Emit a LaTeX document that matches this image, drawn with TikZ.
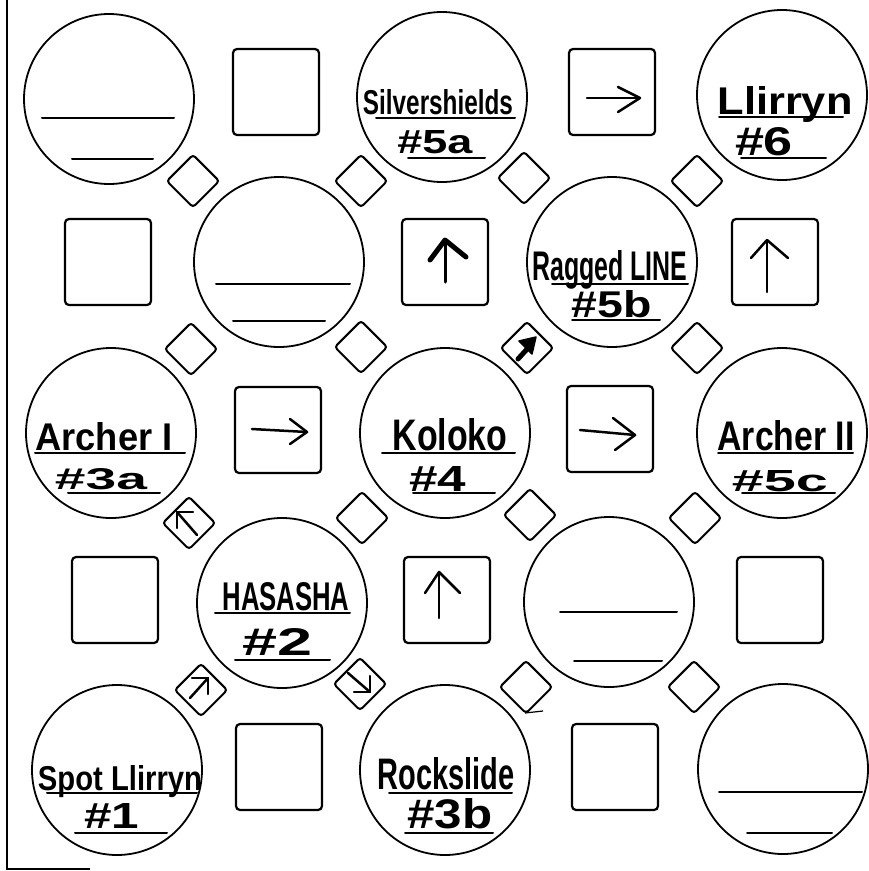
\documentclass[tikz,border=0pt]{standalone}
\usepackage{fontspec}
\setmainfont{Liberation Sans}
\usetikzlibrary{arrows.meta}
\newcommand{\hw}[3]{\resizebox{#1pt}{#2pt}{\bfseries #3}}
\begin{document}
\begin{tikzpicture}[x=1pt,y=-1pt,
 disc/.style={draw,circle,minimum size=170pt,inner sep=0pt,line width=1.8pt},
 tile/.style={draw,rectangle,rounded corners=4pt,minimum size=86pt,inner sep=0pt,line width=2.2pt},
 gem/.style={draw,rectangle,rounded corners=3pt,minimum size=37pt,inner sep=0pt,rotate=45,line width=2pt},
 pen/.style={line width=2pt,line cap=round,line join=round},
 boldpen/.style={line width=5pt,line cap=round,line join=round},
 lbl/.style={anchor=base,inner sep=0pt}]
\useasboundingbox (0,0) rectangle (869,871);
% partial frame
\draw[line width=1.5pt] (7,0) -- (7,869) -- (90,869);
% circles
\node[disc] (c00) at (109,99) {};
\node[disc] (c02) at (442,97) {};
\node[disc] (c04) at (782,95) {};
\node[disc] (c11) at (279,262) {};
\node[disc] (c13) at (612,262) {};
\node[disc] (c20) at (111,433) {};
\node[disc] (c22) at (445,433) {};
\node[disc] (c24) at (782,433) {};
\node[disc] (c31) at (282,603) {};
\node[disc] (c33) at (609,602) {};
\node[disc] (c40) at (117,770) {};
\node[disc] (c42) at (445,770) {};
\node[disc] (c44) at (783,769) {};
% squares
\node[tile] (s01) at (276,92) {};
\node[tile] (s03) at (612,92) {};
\node[tile] (s10) at (108,262) {};
\node[tile] (s12) at (445,262) {};
\node[tile] (s14) at (775,262) {};
\node[tile] (s21) at (278,430) {};
\node[tile] (s23) at (610,429) {};
\node[tile] (s30) at (115,600) {};
\node[tile] (s32) at (447,600) {};
\node[tile] (s34) at (780,600) {};
\node[tile] (s41) at (279,767) {};
\node[tile] (s43) at (615,767) {};
% diamonds
\node[gem] (d1) at (193,181) {};
\node[gem] (d2) at (361,181) {};
\node[gem] (d3) at (524,178) {};
\node[gem] (d4) at (697,181) {};
\node[gem] (d5) at (191,349) {};
\node[gem] (d6) at (361,347) {};
\node[gem] (d7) at (527,348) {};
\node[gem] (d8) at (697,348) {};
\node[gem] (d9) at (189,523) {};
\node[gem] (d10) at (362,518) {};
\node[gem] (d11) at (530,515) {};
\node[gem] (d12) at (695,518) {};
\node[gem] (d13) at (201,690) {};
\node[gem] (d14) at (360,684) {};
\node[gem] (d15) at (526,687) {};
\node[gem] (d16) at (694,687) {};
% arrows in squares
\begin{scope}[shift={(s03.center)}]
 \draw[pen,line width=2.5pt] (-25,6) -- (28,6); \draw[pen,line width=2.5pt] (6,-5) -- (28,6) -- (6,20);
\end{scope}
\begin{scope}[shift={(s21.center)}]
 \draw[pen,line width=2.5pt] (-26,-1) -- (29,2); \draw[pen,line width=2.5pt] (12,-11) -- (29,2) -- (12,14);
\end{scope}
\begin{scope}[shift={(s23.center)}]
 \draw[pen,line width=2.5pt] (-30,1) -- (25,6); \draw[pen,line width=2.5pt] (3,-11) -- (25,6) -- (5,21);
\end{scope}
\begin{scope}[shift={(s12.center)}]
 \draw[pen,line width=3pt] (0,20) -- (0,-22); \draw[boldpen] (-15,-2) -- (0,-22) -- (21,-5);
\end{scope}
\begin{scope}[shift={(s14.center)}]
 \draw[pen,line width=2.5pt] (-8,30) -- (-8,-22); \draw[pen,line width=2.5pt] (-24,-4) -- (-8,-22) -- (13,-4);
\end{scope}
\begin{scope}[shift={(s32.center)}]
 \draw[pen,line width=2.5pt] (-8,18) -- (-8,-28); \draw[pen,line width=2.5pt] (-22,-7) -- (-8,-28) -- (13,-7);
\end{scope}
% arrows in diamonds
\begin{scope}[shift={(d7.center)}]
 \draw[line width=5pt,line cap=round] (-9,11) -- (1,0);
 \fill[line join=round,draw,line width=1.5pt] (9,-11) -- (-8,-7) -- (5,6) -- cycle;
\end{scope}
\begin{scope}[shift={(d9.center)}]
 \draw[pen,line width=2.5pt] (8,12) -- (-12,-11); \draw[pen,line width=2.5pt] (-12,5) -- (-12,-11) -- (4,-11);
\end{scope}
\begin{scope}[shift={(d13.center)}]
 \draw[pen,line width=2.5pt] (-11,8) -- (7,-12); \draw[pen,line width=2.5pt] (-9,-12) -- (7,-12) -- (7,4);
\end{scope}
\begin{scope}[shift={(d14.center)}]
 \draw[pen,line width=2.5pt] (-12,-11) -- (10,8); \draw[pen,line width=2.5pt] (10,-8) -- (10,8) -- (-6,8);
\end{scope}
\draw[line width=1.2pt] ([shift={(-1,26)}]d15.center) -- ([shift={(17,24)}]d15.center);
% blank circle lines
\draw[pen] (42,118) -- (174,118); \draw[pen] (72,159) -- (153,159);
\draw[pen] (216,284) -- (350,284); \draw[pen] (233,321) -- (325,321);
\draw[pen] (560,612) -- (677,612); \draw[pen] (574,661) -- (662,661);
\draw[pen] (719,792) -- (862,792); \draw[pen] (747,833) -- (832,833);
% labels
\node[lbl] (t1) at (438,114) {\hw{150}{25}{Silvershields}};
\draw[pen] (376,118) -- (515,118);
\node[lbl] (t2) at (435,153) {\hw{75}{23}{\#5a}};
\draw[pen] (408,158) -- (485,158);
\node[lbl] (t3) at (785,114) {\hw{135}{28}{Llirryn}};
\draw[pen] (719,117) -- (843,117);
\node[lbl] (t4) at (764,155) {\hw{58}{28}{\#6}};
\draw[pen] (741,158) -- (826,158);
\node[lbl] (t5) at (610,280) {\hw{155}{30}{Ragged LINE}};
\draw[pen] (552,284) -- (688,284);
\node[lbl] (t6) at (612,317) {\hw{80}{27}{\#5b}};
\draw[pen] (572,320) -- (660,320);
\node[lbl] (t7) at (104,450) {\hw{137}{28}{Archer I}};
\draw[pen] (35,453) -- (185,453);
\node[lbl] (t8) at (101,489) {\hw{92}{21}{\#3a}};
\draw[pen] (68,493) -- (160,493);
\node[lbl] (t9) at (450,450) {\hw{115}{32}{Koloko}};
\draw[pen] (382,453) -- (515,453);
\node[lbl] (t10) at (438,491) {\hw{57}{25}{\#4}};
\draw[pen] (413,493) -- (495,493);
\node[lbl] (t11) at (786,450) {\hw{137}{30}{Archer II}};
\draw[pen] (718,453) -- (853,453);
\node[lbl] (t12) at (780,491) {\hw{96}{21}{\#5c}};
\draw[pen] (742,493) -- (835,493);
\node[lbl] (t13) at (286,610) {\hw{127}{28}{HASASHA}};
\draw[pen] (215,613) -- (350,613);
\node[lbl] (t14) at (278,655) {\hw{70}{27}{\#2}};
\draw[pen] (235,660) -- (330,660);
\node[lbl] (t15) at (120,790) {\hw{164}{25}{Spot Llirryn}};
\draw[pen] (47,793) -- (197,793);
\node[lbl] (t16) at (112,828) {\hw{55}{25}{\#1}};
\draw[pen] (75,833) -- (167,833);
\node[lbl] (t17) at (446,789) {\hw{137}{32}{Rockslide}};
\draw[pen] (389,793) -- (512,793);
\node[lbl] (t18) at (450,828) {\hw{85}{30}{\#3b}};
\draw[pen] (405,833) -- (493,833);
\end{tikzpicture}
\end{document}
